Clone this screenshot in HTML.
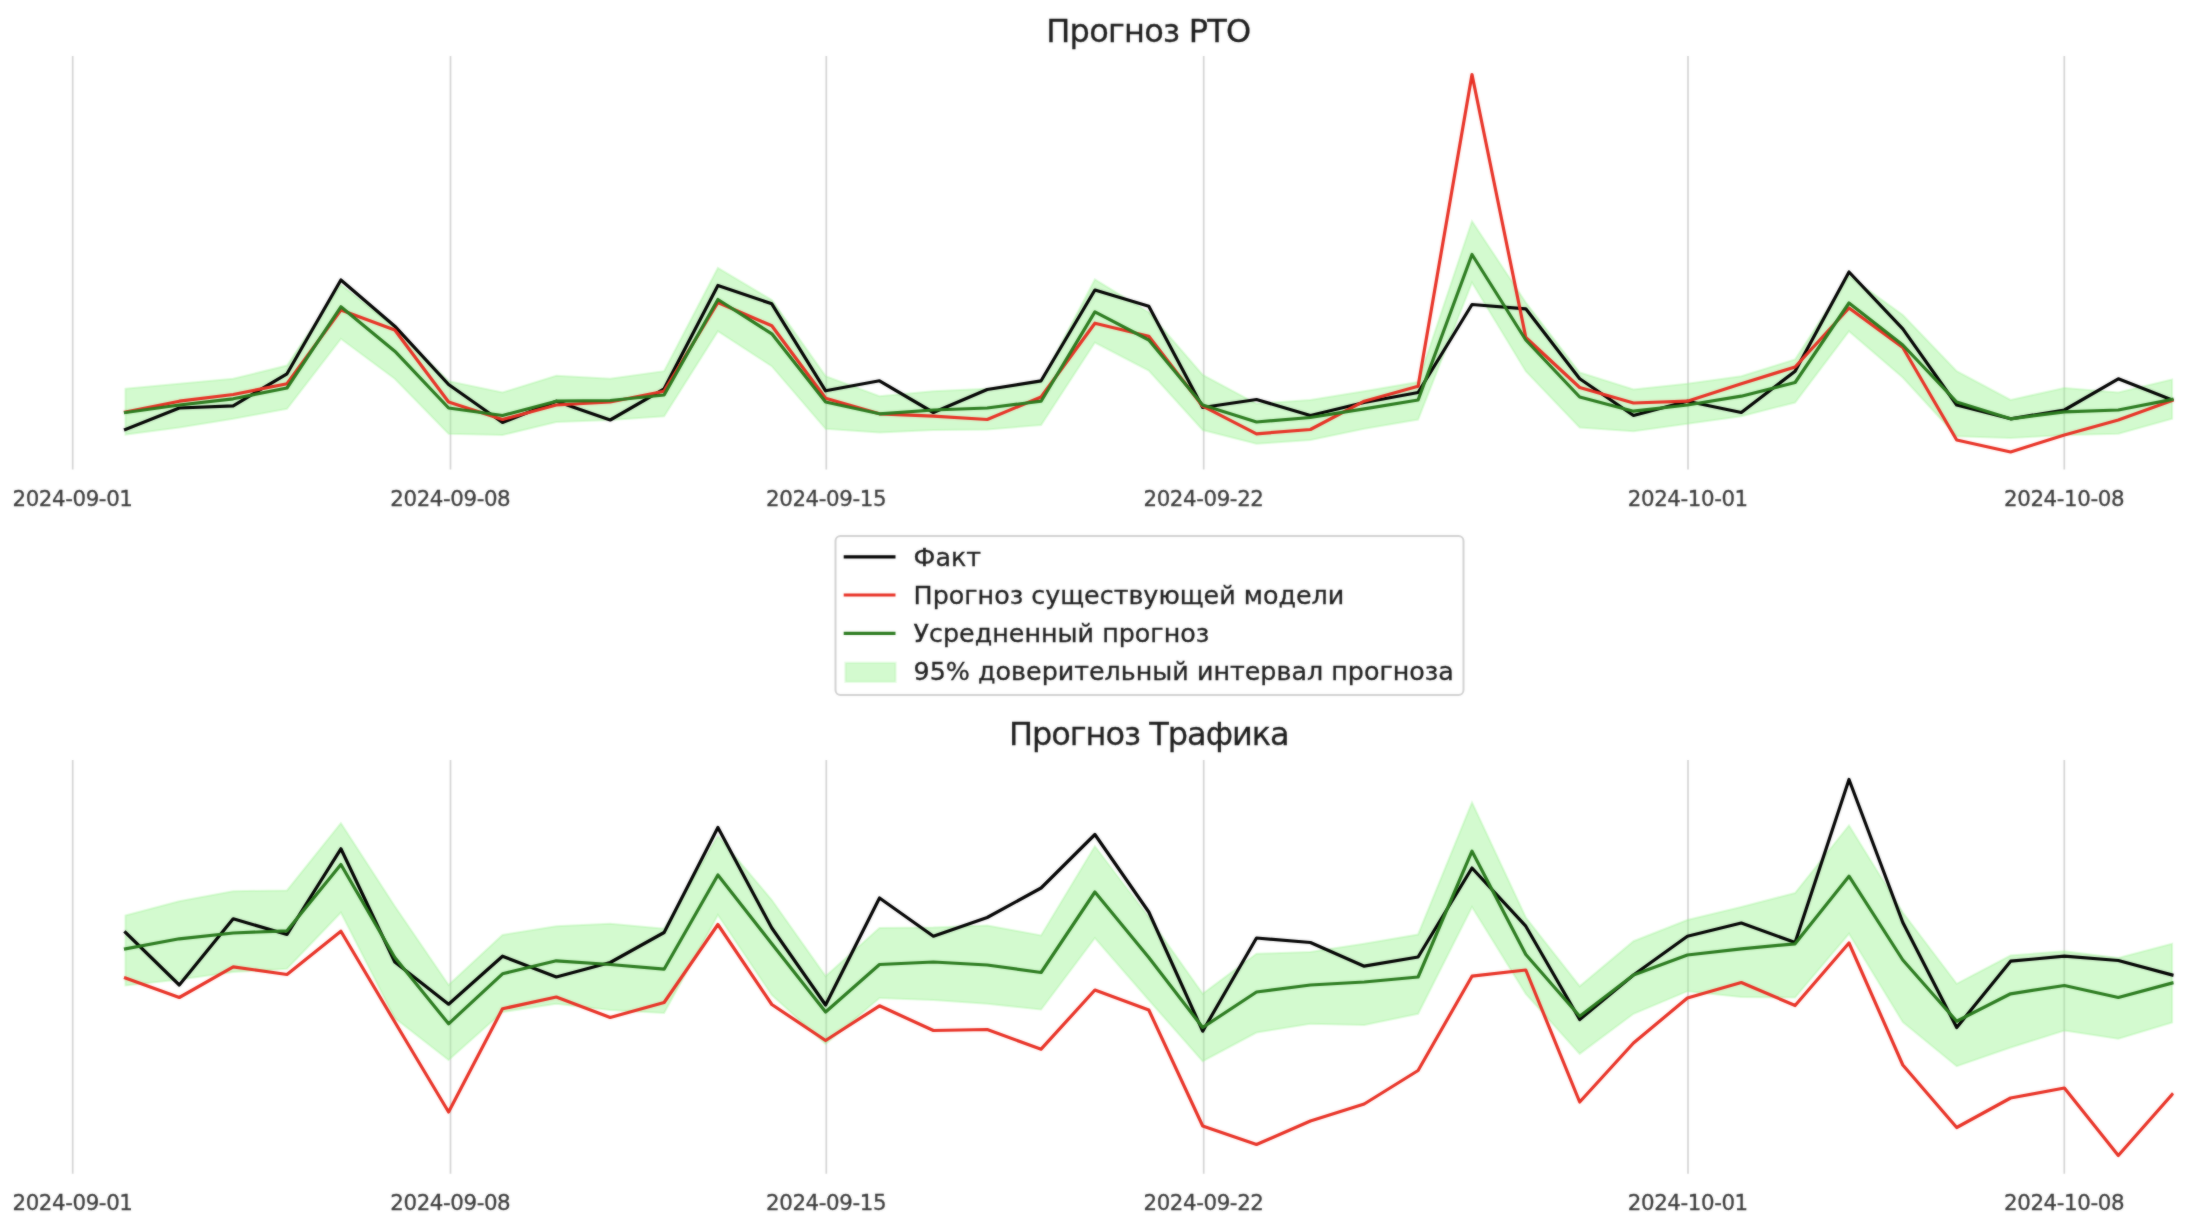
<!DOCTYPE html>
<html lang="ru">
<head>
<meta charset="utf-8">
<title>Прогноз РТО / Прогноз Трафика</title>
<style>
html,body{margin:0;padding:0;background:#fff;}
body{width:2188px;height:1224px;overflow:hidden;}
svg{display:block;}
text{font-family:"DejaVu Sans","Liberation Sans",sans-serif;}
.tick{font-size:21.33px;fill:#3a3a3a;text-anchor:middle;letter-spacing:-0.4px;stroke:#3a3a3a;stroke-width:0.3px;}
.title{font-size:32px;fill:#1c1c1c;text-anchor:middle;stroke:#1c1c1c;stroke-width:0.3px;}
.leg{font-size:24px;fill:#1c1c1c;stroke:#1c1c1c;stroke-width:0.3px;}
.ln{fill:none;stroke-width:3.2;stroke-linejoin:round;stroke-linecap:square;}
.grid{stroke:#d4d4d4;stroke-width:1.7;}
</style>
</head>
<body>
<svg width="2188" height="1224" viewBox="0 0 2188 1224">
<defs>
<filter id="soft" x="0" y="0" width="2188" height="1224" filterUnits="userSpaceOnUse" color-interpolation-filters="sRGB">
<feGaussianBlur in="SourceGraphic" stdDeviation="0.85" result="b"/>
<feComposite in="SourceGraphic" in2="b" operator="arithmetic" k1="0" k2="0.55" k3="0.45" k4="0"/>
</filter>
</defs>
<rect x="0" y="0" width="2188" height="1224" fill="#ffffff"/>
<clipPath id="clipx"><rect x="72" y="0" width="2101.8" height="1224"/></clipPath>
<g filter="url(#soft)">
<rect x="0" y="0" width="2188" height="1224" fill="#ffffff"/>

<g id="a">
<line class="grid" x1="72.7" x2="72.7" y1="56" y2="469.5"/>
<line class="grid" x1="450.5" x2="450.5" y1="56" y2="469.5"/>
<line class="grid" x1="826.3" x2="826.3" y1="56" y2="469.5"/>
<line class="grid" x1="1203.7" x2="1203.7" y1="56" y2="469.5"/>
<line class="grid" x1="1688.0" x2="1688.0" y1="56" y2="469.5"/>
<line class="grid" x1="2064.3" x2="2064.3" y1="56" y2="469.5"/>
<g clip-path="url(#clipx)">
<polygon points="125.5,388.8 179.3,383.8 233.2,378.8 287.0,365.5 340.9,285.0 394.8,327.5 448.6,381.2 502.5,392.5 556.3,375.8 610.2,378.8 664.1,371.2 717.9,268.0 771.8,300.0 825.6,376.2 879.5,396.2 933.4,391.2 987.2,388.8 1041.1,382.0 1094.9,279.5 1148.8,312.5 1202.7,375.0 1256.5,403.8 1310.4,400.0 1364.2,391.2 1418.1,382.0 1472.0,221.2 1525.8,302.5 1579.7,372.5 1633.5,389.5 1687.4,383.8 1741.3,376.2 1795.1,359.5 1849.0,276.2 1902.8,315.0 1956.7,371.2 2010.6,400.0 2064.4,388.0 2118.3,392.5 2172.1,379.5 2172.1,418.8 2118.3,433.8 2064.4,435.0 2010.6,438.0 1956.7,436.2 1902.8,377.5 1849.0,331.2 1795.1,402.5 1741.3,416.2 1687.4,423.8 1633.5,431.2 1579.7,427.5 1525.8,371.2 1472.0,282.5 1418.1,419.5 1364.2,428.8 1310.4,440.0 1256.5,443.8 1202.7,430.0 1148.8,370.5 1094.9,342.5 1041.1,425.0 987.2,429.5 933.4,430.0 879.5,432.5 825.6,428.8 771.8,366.2 717.9,331.2 664.1,416.2 610.2,420.0 556.3,422.0 502.5,435.0 448.6,433.8 394.8,378.8 340.9,338.8 287.0,408.8 233.2,418.8 179.3,427.5 125.5,434.5" fill="#92f288" fill-opacity="0.4" stroke="#92f288" stroke-opacity="0.3" stroke-width="2" stroke-linejoin="miter"/>
<polyline class="ln" stroke="#000000" points="125.5,429.5 179.3,408.0 233.2,405.8 287.0,373.8 340.9,280.0 394.8,326.2 448.6,384.5 502.5,422.5 556.3,401.2 610.2,420.0 664.1,388.8 717.9,285.5 771.8,303.8 825.6,390.8 879.5,380.8 933.4,412.5 987.2,389.5 1041.1,380.8 1094.9,290.0 1148.8,306.2 1202.7,407.5 1256.5,399.5 1310.4,415.5 1364.2,402.5 1418.1,392.5 1472.0,304.5 1525.8,308.8 1579.7,378.8 1633.5,415.5 1687.4,401.2 1741.3,412.5 1795.1,371.2 1849.0,272.0 1902.8,328.8 1956.7,405.0 2010.6,418.8 2064.4,410.0 2118.3,378.8 2172.1,400.0"/>
<polyline class="ln" stroke="#e83024" points="125.5,412.0 179.3,401.2 233.2,394.5 287.0,383.8 340.9,310.0 394.8,330.0 448.6,402.0 502.5,419.5 556.3,405.0 610.2,402.0 664.1,391.2 717.9,302.5 771.8,325.8 825.6,398.2 879.5,413.8 933.4,416.2 987.2,419.5 1041.1,397.0 1094.9,323.2 1148.8,336.2 1202.7,406.2 1256.5,433.8 1310.4,429.5 1364.2,401.2 1418.1,386.2 1472.0,74.5 1525.8,337.5 1579.7,387.5 1633.5,403.0 1687.4,401.2 1741.3,383.8 1795.1,367.0 1849.0,308.0 1902.8,347.5 1956.7,440.0 2010.6,452.0 2064.4,435.0 2118.3,420.0 2172.1,400.5"/>
<polyline class="ln" stroke="#2a7a1e" points="125.5,412.5 179.3,405.0 233.2,398.8 287.0,388.0 340.9,306.8 394.8,351.2 448.6,408.0 502.5,415.5 556.3,401.2 610.2,400.5 664.1,395.0 717.9,299.5 771.8,333.8 825.6,402.0 879.5,413.8 933.4,410.0 987.2,408.0 1041.1,401.2 1094.9,311.8 1148.8,340.0 1202.7,405.0 1256.5,422.0 1310.4,417.5 1364.2,408.8 1418.1,400.0 1472.0,254.5 1525.8,340.0 1579.7,397.0 1633.5,411.2 1687.4,405.0 1741.3,396.2 1795.1,382.5 1849.0,303.0 1902.8,345.0 1956.7,402.0 2010.6,418.8 2064.4,411.8 2118.3,410.0 2172.1,399.5"/>
</g>
<text class="title" x="1148.4" y="41.8" style="letter-spacing:-0.75px">Прогноз РТО</text>
<text class="tick" x="72.5" y="506">2024-09-01</text>
<text class="tick" x="450.3" y="506">2024-09-08</text>
<text class="tick" x="826.1" y="506">2024-09-15</text>
<text class="tick" x="1203.5" y="506">2024-09-22</text>
<text class="tick" x="1687.8" y="506">2024-10-01</text>
<text class="tick" x="2064.1" y="506">2024-10-08</text>
</g>
<g id="b">
<line class="grid" x1="72.7" x2="72.7" y1="760" y2="1173.7"/>
<line class="grid" x1="450.5" x2="450.5" y1="760" y2="1173.7"/>
<line class="grid" x1="826.3" x2="826.3" y1="760" y2="1173.7"/>
<line class="grid" x1="1203.7" x2="1203.7" y1="760" y2="1173.7"/>
<line class="grid" x1="1688.0" x2="1688.0" y1="760" y2="1173.7"/>
<line class="grid" x1="2064.3" x2="2064.3" y1="760" y2="1173.7"/>
<g clip-path="url(#clipx)">
<polygon points="125.5,915.5 179.3,901.2 233.2,891.2 287.0,890.5 340.9,823.2 394.8,906.2 448.6,985.0 502.5,935.0 556.3,926.2 610.2,923.8 664.1,928.8 717.9,836.2 771.8,900.0 825.6,976.2 879.5,928.0 933.4,927.5 987.2,925.5 1041.1,935.5 1094.9,846.2 1148.8,917.5 1202.7,993.8 1256.5,953.8 1310.4,952.0 1364.2,943.8 1418.1,934.5 1472.0,802.5 1525.8,917.5 1579.7,986.2 1633.5,941.2 1687.4,920.0 1741.3,907.0 1795.1,893.0 1849.0,825.5 1902.8,912.5 1956.7,983.8 2010.6,955.5 2064.4,951.2 2118.3,958.0 2172.1,943.8 2172.1,1022.5 2118.3,1038.8 2064.4,1030.5 2010.6,1047.5 1956.7,1066.2 1902.8,1022.0 1849.0,933.8 1795.1,997.5 1741.3,997.0 1687.4,991.2 1633.5,1013.8 1579.7,1053.8 1525.8,993.8 1472.0,907.0 1418.1,1013.8 1364.2,1025.0 1310.4,1023.8 1256.5,1032.5 1202.7,1061.2 1148.8,1000.0 1094.9,938.0 1041.1,1009.5 987.2,1003.8 933.4,1000.0 879.5,998.0 825.6,1043.8 771.8,995.0 717.9,915.0 664.1,1013.0 610.2,1010.0 556.3,1003.8 502.5,1012.0 448.6,1060.0 394.8,1018.0 340.9,912.5 287.0,968.8 233.2,972.0 179.3,979.5 125.5,985.5" fill="#92f288" fill-opacity="0.4" stroke="#92f288" stroke-opacity="0.3" stroke-width="2" stroke-linejoin="miter"/>
<polyline class="ln" stroke="#000000" points="125.5,932.5 179.3,985.0 233.2,918.8 287.0,934.5 340.9,848.8 394.8,962.0 448.6,1004.2 502.5,956.2 556.3,977.0 610.2,962.5 664.1,932.5 717.9,827.5 771.8,928.0 825.6,1005.0 879.5,898.0 933.4,936.2 987.2,917.5 1041.1,888.0 1094.9,834.5 1148.8,912.0 1202.7,1031.2 1256.5,938.0 1310.4,942.5 1364.2,966.2 1418.1,957.0 1472.0,868.0 1525.8,926.2 1579.7,1019.5 1633.5,975.0 1687.4,936.2 1741.3,923.0 1795.1,942.5 1849.0,779.5 1902.8,922.5 1956.7,1027.5 2010.6,961.2 2064.4,956.2 2118.3,960.5 2172.1,975.0"/>
<polyline class="ln" stroke="#e83024" points="125.5,978.0 179.3,997.5 233.2,966.8 287.0,974.5 340.9,931.2 394.8,1022.0 448.6,1112.0 502.5,1008.8 556.3,997.0 610.2,1017.5 664.1,1002.5 717.9,924.5 771.8,1004.5 825.6,1040.5 879.5,1005.8 933.4,1030.5 987.2,1029.5 1041.1,1049.2 1094.9,990.0 1148.8,1010.0 1202.7,1126.0 1256.5,1144.5 1310.4,1121.0 1364.2,1104.0 1418.1,1070.5 1472.0,976.2 1525.8,970.0 1579.7,1102.0 1633.5,1043.0 1687.4,998.0 1741.3,982.5 1795.1,1005.5 1849.0,943.0 1902.8,1065.0 1956.7,1127.5 2010.6,1098.0 2064.4,1088.0 2118.3,1155.5 2172.1,1094.5"/>
<polyline class="ln" stroke="#2a7a1e" points="125.5,948.8 179.3,938.8 233.2,933.0 287.0,930.8 340.9,864.5 394.8,957.5 448.6,1023.8 502.5,973.8 556.3,960.8 610.2,964.5 664.1,969.2 717.9,875.0 771.8,943.8 825.6,1012.0 879.5,964.5 933.4,962.0 987.2,965.0 1041.1,972.5 1094.9,892.0 1148.8,957.5 1202.7,1027.5 1256.5,992.0 1310.4,985.0 1364.2,982.0 1418.1,977.0 1472.0,851.2 1525.8,954.5 1579.7,1016.2 1633.5,975.0 1687.4,955.0 1741.3,948.8 1795.1,943.8 1849.0,876.2 1902.8,960.0 1956.7,1021.2 2010.6,993.8 2064.4,985.5 2118.3,997.5 2172.1,983.0"/>
</g>
<text class="title" x="1148.8" y="745.3" style="letter-spacing:-1.02px">Прогноз Трафика</text>
<text class="tick" x="72.5" y="1210.2">2024-09-01</text>
<text class="tick" x="450.3" y="1210.2">2024-09-08</text>
<text class="tick" x="826.1" y="1210.2">2024-09-15</text>
<text class="tick" x="1203.5" y="1210.2">2024-09-22</text>
<text class="tick" x="1687.8" y="1210.2">2024-10-01</text>
<text class="tick" x="2064.1" y="1210.2">2024-10-08</text>
</g>
<g id="legend">
<rect x="835.5" y="536" width="628" height="159" rx="5" ry="5" fill="#ffffff" fill-opacity="0.8" stroke="#cccccc" stroke-opacity="0.9" stroke-width="2"/>
<line x1="845.3" x2="893.9" y1="556.9" y2="556.9" stroke="#000000" stroke-width="3.2" stroke-linecap="square"/>
<line x1="845.3" x2="893.9" y1="595" y2="595" stroke="#e83024" stroke-width="3.2" stroke-linecap="square"/>
<line x1="845.3" x2="893.9" y1="633.3" y2="633.3" stroke="#2a7a1e" stroke-width="3.2" stroke-linecap="square"/>
<rect x="845.5" y="662.8" width="50" height="19" fill="#92f288" fill-opacity="0.4" stroke="#92f288" stroke-opacity="0.2" stroke-width="2.4"/>
<text class="leg" transform="translate(913.6,565.7) scale(1.057,1)">Факт</text>
<text class="leg" transform="translate(913.6,604) scale(1.057,1)">Прогноз существующей модели</text>
<text class="leg" transform="translate(913.6,642.2) scale(1.057,1)">Усредненный прогноз</text>
<text class="leg" transform="translate(913.6,680.4) scale(1.057,1)">95% доверительный интервал прогноза</text>
</g>
</g>
</svg>
</body>
</html>
